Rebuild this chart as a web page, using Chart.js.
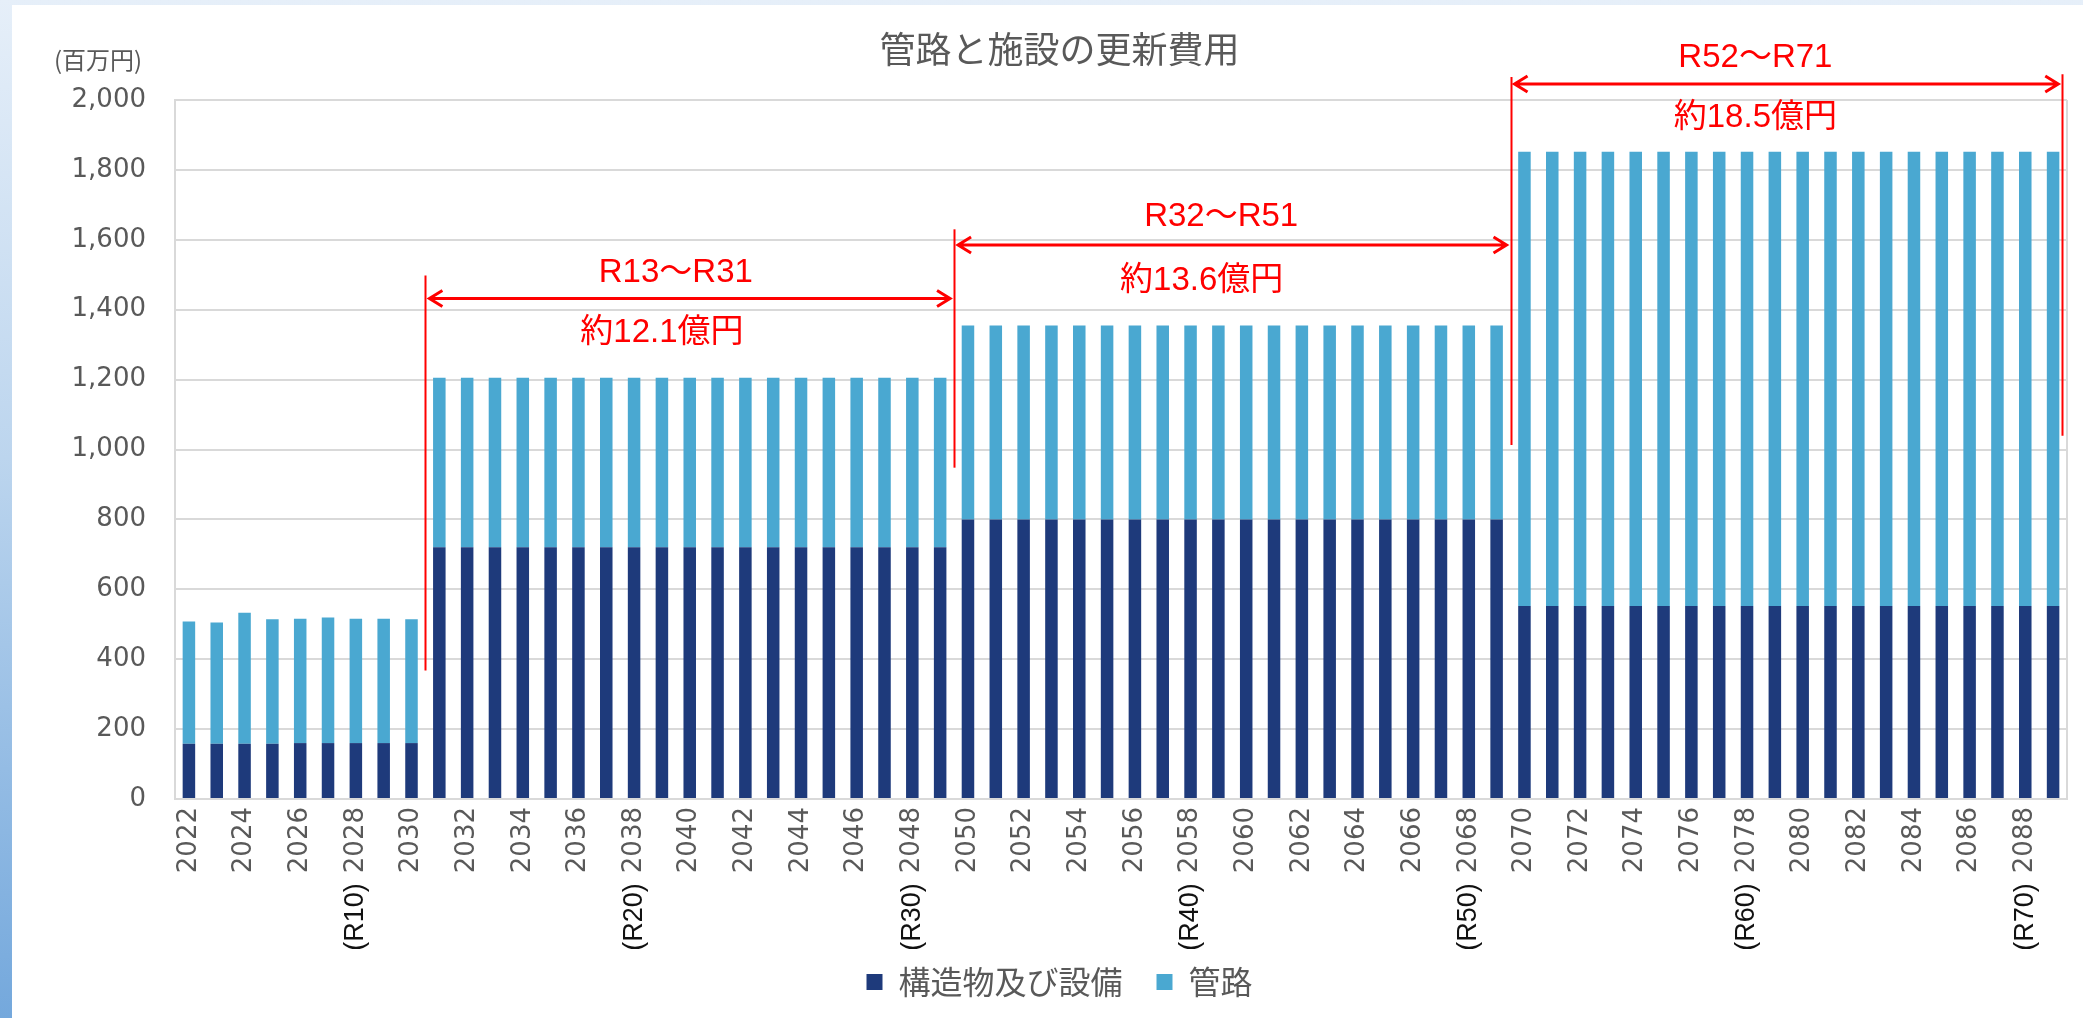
<!DOCTYPE html>
<html lang="ja">
<head>
<meta charset="utf-8">
<title>管路と施設の更新費用</title>
<script src="https://cdn.jsdelivr.net/npm/chart.js@4.4.1/dist/chart.umd.min.js"></script>
<style>
  html, body { margin: 0; padding: 0; }
  body {
    width: 2083px; height: 1018px; overflow: hidden; position: relative;
    background: linear-gradient(180deg, #e6eff9 0%, #bcd5ee 45%, #74a8dc 100%);
  }
  #wrap {
    position: absolute; left: 12px; top: 5px;
    width: 2095px; height: 1013px; background: #fff;
  }
</style>
</head>
<body>
<div id="wrap"><canvas id="costChart"></canvas></div>
<script>
const years = [
  "2022","2023","2024","2025","2026","2027","2028","2029","2030","2031",
  "2032","2033","2034","2035","2036","2037","2038","2039","2040","2041",
  "2042","2043","2044","2045","2046","2047","2048","2049","2050","2051",
  "2052","2053","2054","2055","2056","2057","2058","2059","2060","2061",
  "2062","2063","2064","2065","2066","2067","2068","2069","2070","2071",
  "2072","2073","2074","2075","2076","2077","2078","2079","2080","2081",
  "2082","2083","2084","2085","2086","2087","2088","2089"
];

// 構造物及び設備 (百万円)
const facilities = [
  158, 158, 158, 158, 160, 160, 160, 160, 160,
  720, 720, 720, 720, 720, 720, 720, 720, 720, 720,
  720, 720, 720, 720, 720, 720, 720, 720, 720,
  800, 800, 800, 800, 800, 800, 800, 800, 800, 800,
  800, 800, 800, 800, 800, 800, 800, 800, 800, 800,
  552, 552, 552, 552, 552, 552, 552, 552, 552, 552,
  552, 552, 552, 552, 552, 552, 552, 552, 552, 552
];

// 管路 (百万円)
const pipes = [
  350, 347, 375, 356, 356, 359, 356, 356, 354,
  485, 485, 485, 485, 485, 485, 485, 485, 485, 485,
  485, 485, 485, 485, 485, 485, 485, 485, 485,
  555, 555, 555, 555, 555, 555, 555, 555, 555, 555,
  555, 555, 555, 555, 555, 555, 555, 555, 555, 555,
  1300, 1300, 1300, 1300, 1300, 1300, 1300, 1300, 1300, 1300,
  1300, 1300, 1300, 1300, 1300, 1300, 1300, 1300, 1300, 1300
];

// 令和の目印 (year tick → reiwa label)
const reiwaMarks = { "2028": "(R10)", "2038": "(R20)", "2048": "(R30)", "2058": "(R40)",
                     "2068": "(R50)", "2078": "(R60)", "2088": "(R70)" };

// red range markers: category index positions and value heights
const rangeLines = [
  { at: 8.5, top: 1498, bottom: 368 },
  { at: 27.5, top: 1630, bottom: 948 },
  { at: 47.5, top: 2066, bottom: 1013 },
  { at: 67.33, top: 2074, bottom: 1039 }
];
const rangeArrows = [
  { from: 8.5, to: 27.5, y: 1432 },
  { from: 27.5, to: 47.5, y: 1585 },
  { from: 47.5, to: 67.33, y: 2046 }
];
const rangeTexts = [
  { text: "R13〜R31", at: 17.5, y: 1506 },
  { text: "約12.1億円", at: 17.0, y: 1335 },
  { text: "R32〜R51", at: 37.1, y: 1665 },
  { text: "約13.6億円", at: 36.4, y: 1483 },
  { text: "R52〜R71", at: 56.3, y: 2120 },
  { text: "約18.5億円", at: 56.3, y: 1949 }
];

const GRAY = "#595959";
const TICK_FONT = "26px 'DejaVu Sans'";
const TICK_PAD = 8;

const extras = {
  id: "extras",
  afterDraw(chart) {
    const { ctx, chartArea: a, scales: { x, y } } = chart;
    ctx.save();

    // title
    ctx.fillStyle = GRAY;
    ctx.font = "36px 'Noto Sans CJK JP'";
    ctx.textAlign = "center";
    ctx.textBaseline = "middle";
    ctx.fillText("管路と施設の更新費用", chart.width / 2, 44);

    // right border of plot
    ctx.strokeStyle = "#d9d9d9";
    ctx.lineWidth = 2;
    ctx.beginPath();
    ctx.moveTo(a.right, a.top);
    ctx.lineTo(a.right, a.bottom);
    ctx.stroke();

    // unit label
    ctx.font = "24px 'Noto Sans CJK JP'";
    ctx.fillText("(百万円)", a.left - 77, a.top - 40);

    // reiwa labels after the year ticks
    years.forEach((yr, i) => {
      const r = reiwaMarks[yr];
      if (!r) return;
      ctx.font = TICK_FONT;
      const w = ctx.measureText(yr).width;
      const px = x.getPixelForValue(i);
      const py = x.top + TICK_PAD + w + 10;
      ctx.save();
      ctx.translate(px, py);
      ctx.rotate(-Math.PI / 2);
      ctx.font = "27px 'Liberation Sans'";
      ctx.fillStyle = "#111";
      ctx.textAlign = "right";
      ctx.textBaseline = "middle";
      ctx.fillText(r, 0, 0);
      ctx.restore();
    });

    // red ranges
    ctx.strokeStyle = "#ff0000";
    ctx.fillStyle = "#ff0000";
    ctx.lineWidth = 2;
    rangeLines.forEach((l) => {
      const px = Math.round(x.getPixelForValue(l.at)) + 0.5;
      ctx.beginPath();
      ctx.moveTo(px, y.getPixelForValue(l.top));
      ctx.lineTo(px, y.getPixelForValue(l.bottom));
      ctx.stroke();
    });

    ctx.lineWidth = 3;
    rangeArrows.forEach((ar) => {
      const x1 = x.getPixelForValue(ar.from) + 4;
      const x2 = x.getPixelForValue(ar.to) - 4;
      const py = y.getPixelForValue(ar.y);
      ctx.beginPath();
      ctx.moveTo(x1, py);
      ctx.lineTo(x2, py);
      ctx.moveTo(x1 + 13, py - 8);
      ctx.lineTo(x1, py);
      ctx.lineTo(x1 + 13, py + 8);
      ctx.moveTo(x2 - 13, py - 8);
      ctx.lineTo(x2, py);
      ctx.lineTo(x2 - 13, py + 8);
      ctx.stroke();
    });

    ctx.font = "33px 'Liberation Sans', 'Noto Sans CJK JP'";
    ctx.textAlign = "center";
    ctx.textBaseline = "middle";
    rangeTexts.forEach((t) => {
      ctx.fillText(t.text, x.getPixelForValue(t.at), y.getPixelForValue(t.y));
    });

    ctx.restore();
  }
};

new Chart(document.getElementById("costChart"), {
  type: "bar",
  data: {
    labels: years,
    datasets: [
      {
        label: "構造物及び設備",
        data: facilities,
        backgroundColor: "#1e3a7b",
        categoryPercentage: 1,
        barPercentage: 0.45
      },
      {
        label: "管路",
        data: pipes,
        backgroundColor: "#4aa8d1",
        categoryPercentage: 1,
        barPercentage: 0.45
      }
    ]
  },
  options: {
    responsive: true,
    maintainAspectRatio: false,
    animation: false,
    locale: "en-US",
    layout: { padding: { left: 40, right: 40, top: 95, bottom: 10 } },
    plugins: {
      title: { display: false },
      legend: {
        position: "bottom",
        labels: {
          color: GRAY,
          font: { family: "'Noto Sans CJK JP'", size: 32 },
          boxWidth: 16,
          boxHeight: 16,
          padding: 34
        }
      },
      tooltip: { enabled: false }
    },
    scales: {
      x: {
        stacked: true,
        grid: { display: false, drawTicks: false },
        border: { display: true, color: "#d9d9d9", width: 2 },
        ticks: {
          autoSkip: false,
          minRotation: 90,
          maxRotation: 90,
          padding: TICK_PAD,
          color: GRAY,
          font: { family: "'DejaVu Sans'", size: 26 },
          callback: (v, i) => (i % 2 === 0 ? years[i] : "")
        },
        afterFit: (s) => { s.height = 133; }
      },
      y: {
        stacked: true,
        min: 0,
        max: 2000,
        grid: { color: "#d9d9d9", lineWidth: 2, drawTicks: false },
        border: { display: true, color: "#d9d9d9", width: 2 },
        ticks: {
          stepSize: 200,
          padding: 29,
          color: GRAY,
          font: { family: "'DejaVu Sans'", size: 26 },
          callback: (v) => v.toLocaleString("en-US")
        },
        afterFit: (s) => { s.width = 123; }
      }
    }
  },
  plugins: [extras]
});
</script>
</body>
</html>
